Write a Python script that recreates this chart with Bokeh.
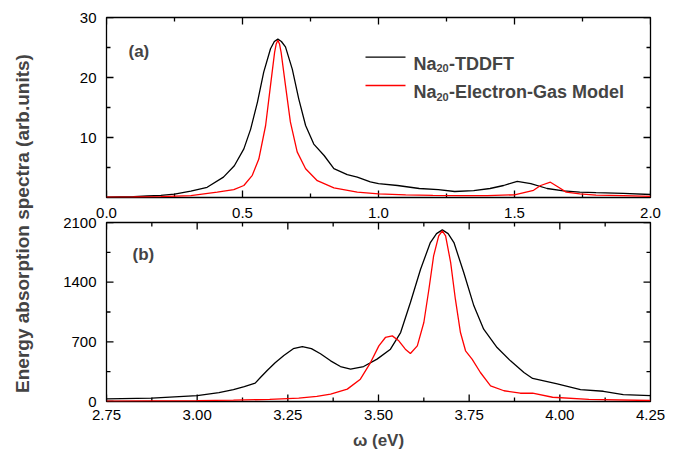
import math
from bokeh.plotting import figure
from bokeh.models import (Range1d, LinearAxis, FixedTicker, NumeralTickFormatter,
                          Label, BoxAnnotation, ColumnDataSource)
from bokeh.layouts import row, column
from bokeh.embed import file_html
from bokeh.resources import INLINE

# ---------------- data ----------------
# panel (a): low-energy spectra, omega in eV
tddft_a_x = [0.00, 0.05, 0.10, 0.15, 0.20, 0.25, 0.31, 0.37, 0.43, 0.47, 0.505, 0.53,
             0.555, 0.578, 0.603, 0.617, 0.63, 0.643, 0.658, 0.683, 0.707, 0.732, 0.762,
             0.80, 0.836, 0.885, 0.922, 0.97, 1.00, 1.07, 1.15, 1.22, 1.28, 1.35, 1.41,
             1.46, 1.51, 1.56, 1.62, 1.68, 1.74, 1.80, 1.90, 2.00]
tddft_a_y = [0.05, 0.1, 0.15, 0.25, 0.35, 0.55, 1.05, 1.7, 3.4, 5.3, 8.1, 11.4,
             15.9, 20.9, 24.8, 26.0, 26.4, 26.0, 25.1, 21.4, 16.4, 12.0, 8.9,
             7.0, 4.8, 3.8, 3.4, 2.6, 2.3, 2.0, 1.5, 1.3, 1.0, 1.15, 1.5,
             2.0, 2.7, 2.3, 1.5, 1.1, 0.9, 0.8, 0.7, 0.5]

egm_a_x = [0.00, 0.10, 0.20, 0.31, 0.407, 0.468, 0.505, 0.536, 0.56, 0.585, 0.603, 0.618,
           0.624, 0.63, 0.636, 0.642, 0.658, 0.676, 0.701, 0.732, 0.775, 0.836, 0.922,
           1.00, 1.10, 1.20, 1.30, 1.40, 1.50, 1.57, 1.596, 1.632, 1.662, 1.69, 1.74,
           1.80, 1.90, 2.00]
egm_a_y = [0.05, 0.08, 0.15, 0.3, 0.9, 1.3, 2.0, 3.7, 6.4, 12.0, 18.7, 24.2,
           25.6, 26.2, 25.6, 24.2, 18.7, 12.6, 7.6, 4.8, 2.8, 1.6, 0.9,
           0.6, 0.45, 0.35, 0.3, 0.3, 0.45, 1.2, 2.0, 2.55, 1.7, 0.9, 0.6,
           0.4, 0.3, 0.2]

# panel (b): high-energy spectra
tddft_b_x = [2.75, 2.875, 3.00, 3.06, 3.10, 3.13, 3.16, 3.175, 3.193, 3.215, 3.239, 3.265,
             3.29, 3.315, 3.34, 3.368, 3.395, 3.423, 3.459, 3.496, 3.533, 3.561, 3.588,
             3.616, 3.643, 3.66, 3.676, 3.692, 3.708, 3.735, 3.763, 3.79, 3.827, 3.864,
             3.901, 3.925, 3.99, 4.057, 4.12, 4.175, 4.25]
tddft_b_y = [30, 40, 70, 105, 140, 175, 215, 285, 364, 455, 540, 620,
             645, 620, 560, 477, 410, 379, 410, 497, 614, 809, 1161,
             1552, 1865, 1970, 2014, 1970, 1865, 1513, 1122, 848, 633, 477,
             340, 270, 210, 140, 120, 80, 70]

egm_b_x = [2.75, 3.00, 3.10, 3.20, 3.28, 3.33, 3.368, 3.414, 3.45, 3.478, 3.501, 3.519,
           3.538, 3.556, 3.574, 3.588, 3.607, 3.625, 3.639, 3.652, 3.666, 3.676, 3.685,
           3.699, 3.712, 3.726, 3.74, 3.758, 3.781, 3.809, 3.846, 3.891, 3.925, 3.98,
           4.08, 4.25]
egm_b_y = [5, 10, 15, 25, 40, 60, 86, 145, 262, 457, 653, 751,
           770, 712, 614, 563, 653, 927, 1317, 1709, 1944, 2002, 1944,
           1630, 1200, 809, 595, 497, 340, 184, 126, 97, 97, 50,
           25, 12]

# axis ranges and ticks
xa_range = [0.0, 2.0]
ya_range = [0, 30]
xb_range = [2.75, 4.25]
yb_range = [0, 2100]
xa_ticks = [0.0, 0.5, 1.0, 1.5, 2.0]
xa_minor = [0.25, 0.75, 1.25, 1.75]
ya_ticks = [10, 20, 30]
ya_minor = [5, 15, 25]
xb_ticks = [2.75, 3.00, 3.25, 3.50, 3.75, 4.00, 4.25]
xb_minor = [2.875, 3.125, 3.375, 3.625, 3.875, 4.125]
yb_ticks = [0, 700, 1400, 2100]
yb_minor = [350, 1050, 1750]

series_names = ["-TDDFT", "-Electron-Gas Model"]
series_colors = ["black", "#ff0000"]
ytitle = "Energy absorption spectra (arb.units)"
xtitle = "\u03c9 (eV)"

FONT = "Liberation Sans"
FRAME_W = 544     # frame size in pixels (layout)
FRAME_H = [180, 179]
MAJOR_LEN = 7
MINOR_LEN = 4


def style_axis(ax, ticks, fmt=None, standoff=10):
    ax.ticker = FixedTicker(ticks=ticks)
    if fmt:
        ax.formatter = NumeralTickFormatter(format=fmt)
    ax.axis_line_color = None
    ax.major_tick_in = 0
    ax.major_tick_out = 0
    ax.minor_tick_in = 0
    ax.minor_tick_out = 0
    ax.major_tick_line_color = None
    ax.minor_tick_line_color = None
    ax.major_label_text_font = FONT
    ax.major_label_text_font_size = "15px"
    ax.major_label_text_color = "black"
    ax.major_label_standoff = standoff


def inward_ticks(p, xr, yr, xt, xm, yt, ym, fh):
    """Inward tick marks on all four sides of the frame, as one multi_line glyph."""
    dx = (xr[1] - xr[0]) / FRAME_W   # data units per pixel
    dy = (yr[1] - yr[0]) / fh
    xs, ys = [], []
    for ticks, ln in ((xt, MAJOR_LEN), (xm, MINOR_LEN)):
        for t in ticks:
            xs.append([t, t]); ys.append([yr[0], yr[0] + ln * dy])
            xs.append([t, t]); ys.append([yr[1], yr[1] - ln * dy])
    for ticks, ln in ((yt, MAJOR_LEN), (ym, MINOR_LEN)):
        for t in ticks:
            xs.append([xr[0], xr[0] + ln * dx]); ys.append([t, t])
            xs.append([xr[1], xr[1] - ln * dx]); ys.append([t, t])
    src = ColumnDataSource(dict(xs=xs, ys=ys))
    p.multi_line(xs="xs", ys="ys", source=src, line_color="#000000",
                 line_width=1.3, line_alpha=1.0)


def base_fig(h, xr, yr, top, bottom, xaxis=True):
    p = figure(width=654, height=h, x_range=Range1d(*xr), y_range=Range1d(*yr),
               min_border_left=62, min_border_right=48,
               min_border_top=top, min_border_bottom=bottom,
               x_axis_location=("below" if xaxis else None),
               toolbar_location=None, output_backend="svg")
    p.xgrid.visible = False
    p.ygrid.visible = False
    p.outline_line_color = "black"
    p.outline_line_width = 1.3
    p.background_fill_color = "white"
    p.border_fill_color = "white"
    return p


# ---------------- panel (a) ----------------
p1 = base_fig(200, xa_range, ya_range, 17, 3, xaxis=False)
style_axis(p1.yaxis[0], ya_ticks, standoff=10)

inward_ticks(p1, xa_range, ya_range, xa_ticks, xa_minor, ya_ticks, ya_minor, FRAME_H[0])
p1.line(tddft_a_x, tddft_a_y, line_color=series_colors[0], line_width=1.3)
p1.line(egm_a_x, egm_a_y, line_color=series_colors[1], line_width=1.3)

p1.add_layout(Label(x=22, y=146, x_units="screen", y_units="screen", text="(a)",
                    text_font=FONT, text_font_size="17px", text_font_style="bold",
                    text_baseline="alphabetic"))

# legend (manual, to get the subscript)
leg_rows = [140.3, 112.0]
for i, (nm, col) in enumerate(zip(series_names, series_colors)):
    yc = leg_rows[i]
    p1.add_layout(BoxAnnotation(left=259, right=299, bottom=yc - 0.65, top=yc + 0.65,
                                left_units="screen", right_units="screen",
                                bottom_units="screen", top_units="screen",
                                fill_color=col, fill_alpha=1.0, line_color=None))
    yb = yc - 6.6
    p1.add_layout(Label(x=307, y=yb, x_units="screen", y_units="screen", text="Na",
                        text_font=FONT, text_font_size="18px", text_font_style="bold",
                        text_baseline="alphabetic"))
    p1.add_layout(Label(x=330, y=yb - 4.5, x_units="screen", y_units="screen", text="20",
                        text_font=FONT, text_font_size="11px", text_font_style="bold",
                        text_baseline="alphabetic"))
    p1.add_layout(Label(x=342.5, y=yb, x_units="screen", y_units="screen", text=nm,
                        text_font=FONT, text_font_size="18px", text_font_style="bold",
                        text_baseline="alphabetic"))

# ---------------- panel (b) ----------------
p2 = base_fig(258, xb_range, yb_range, 22, 57)
p2.extra_x_ranges = {"upper": Range1d(*xa_range)}
style_axis(p2.xaxis[0], xb_ticks, fmt="0.00", standoff=8)
style_axis(p2.yaxis[0], yb_ticks, standoff=10)
p2.xaxis[0].axis_label = xtitle
p2.xaxis[0].axis_label_text_font = FONT
p2.xaxis[0].axis_label_text_font_size = "17px"
p2.xaxis[0].axis_label_text_font_style = "bold"
p2.xaxis[0].axis_label_standoff = 8

# tick labels of panel (a)'s x axis sit just above panel (b)
ax_lab = LinearAxis(x_range_name="upper")
style_axis(ax_lab, xa_ticks, fmt="0.0", standoff=5)
p2.add_layout(ax_lab, "above")

inward_ticks(p2, xb_range, yb_range, xb_ticks, xb_minor, yb_ticks, yb_minor, FRAME_H[1])
p2.line(tddft_b_x, tddft_b_y, line_color=series_colors[0], line_width=1.3)
p2.line(egm_b_x, egm_b_y, line_color=series_colors[1], line_width=1.3)

p2.add_layout(Label(x=26, y=147.5, x_units="screen", y_units="screen", text="(b)",
                    text_font=FONT, text_font_size="17px", text_font_style="bold",
                    text_baseline="alphabetic"))

# ---------------- shared y title ----------------
t = figure(width=44, height=458, x_range=Range1d(0, 1), y_range=Range1d(0, 1),
           min_border=0, x_axis_location=None, y_axis_location=None,
           toolbar_location=None, output_backend="svg")
t.outline_line_color = None
t.xgrid.visible = False
t.ygrid.visible = False
t.add_layout(Label(x=22, y=235, x_units="screen", y_units="screen", text=ytitle,
                   angle=math.pi / 2, text_align="center", text_baseline="middle",
                   text_font=FONT, text_font_size="19px", text_font_style="bold"))

layout = row(t, column(p1, p2))
open("out.html", "w").write(file_html(layout, INLINE))
